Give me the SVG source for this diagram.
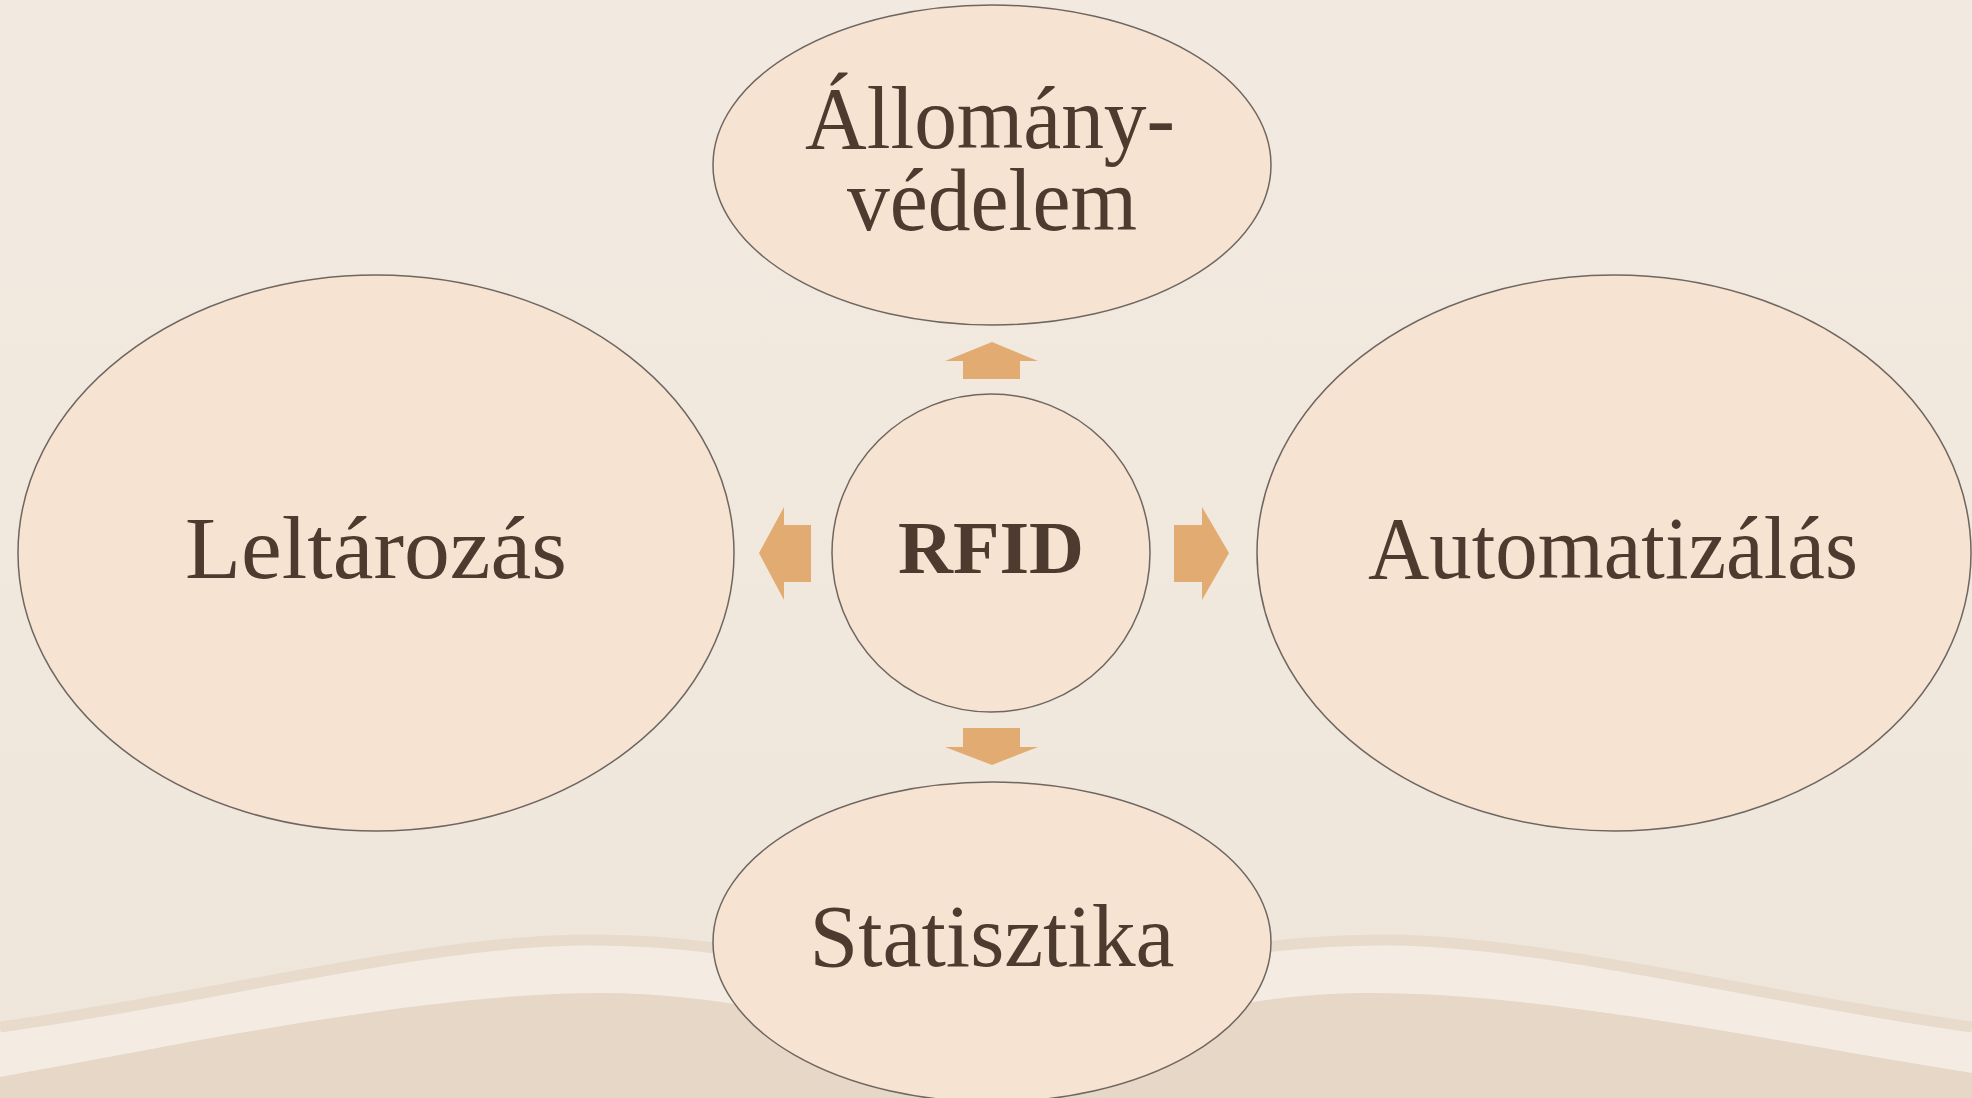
<svg xmlns="http://www.w3.org/2000/svg" width="1972" height="1098" viewBox="0 0 1972 1098">
<style>
.node{fill:#F7E3D1;stroke:#6E6660;stroke-width:1.5}
.lbl{font-family:"Liberation Serif","Times New Roman",serif;font-size:88px;fill:#4E3B30;text-anchor:middle}
.bold{font-weight:bold;font-size:74px}
.arrow{fill:#E2AB72}
</style>
<defs>
<linearGradient id="bg" x1="0" y1="0" x2="0" y2="1">
<stop offset="0" stop-color="#F2EAE0"/>
<stop offset="1" stop-color="#EFE6DB"/>
</linearGradient>
</defs>
<g id="background">
<rect width="1972" height="1098" fill="url(#bg)"/>
<path d="M0,1027 C200,1000 420,942 580,940 C760,938 860,985 991,990 C1122,985 1212,938 1392,940 C1552,942 1772,1000 1972,1027 L1972,1098 L0,1098 Z" fill="#F4ECE3"/>
<path d="M0,1027 C200,1000 420,942 580,940 C760,938 860,985 991,990 C1122,985 1212,938 1392,940 C1552,942 1772,1000 1972,1027" fill="none" stroke="#E8DBCB" stroke-width="11"/>
<path d="M0,1077 C180,1045 420,993 600,993 C760,993 860,1040 991,1045 C1122,1040 1212,993 1372,993 C1552,993 1792,1045 1972,1073 L1972,1098 L0,1098 Z" fill="#E6D7C6"/>
</g>
<g id="connectors">
<polygon class="arrow" points="992,342 1038,361 1020,361 1020,379 963,379 963,361 945,361"/>
<polygon class="arrow" points="992,765 1038,747 1020,747 1020,728 963,728 963,747 945,747"/>
<polygon class="arrow" points="759,553 784,507 784,525 811,525 811,582 784,582 784,600"/>
<polygon class="arrow" points="1229,553 1202,507 1202,525 1174,525 1174,582 1202,582 1202,600"/>
</g>
<g id="node-top">
<ellipse class="node" cx="992" cy="165" rx="279" ry="160"/>
<text class="lbl" x="990" y="148" textLength="370" lengthAdjust="spacingAndGlyphs">Állomány-</text>
<text class="lbl" x="992" y="230" textLength="290" lengthAdjust="spacingAndGlyphs">védelem</text>
</g>
<g id="node-left">
<ellipse class="node" cx="376" cy="553" rx="358" ry="278"/>
<text class="lbl" x="376" y="578" textLength="382" lengthAdjust="spacingAndGlyphs">Leltározás</text>
</g>
<g id="node-right">
<ellipse class="node" cx="1614" cy="553" rx="357" ry="278"/>
<text class="lbl" x="1613" y="578" textLength="490" lengthAdjust="spacingAndGlyphs">Automatizálás</text>
</g>
<g id="node-bottom">
<ellipse class="node" cx="992" cy="942" rx="279" ry="160"/>
<text class="lbl" x="992" y="966" textLength="365" lengthAdjust="spacingAndGlyphs">Statisztika</text>
</g>
<g id="node-center">
<circle class="node" cx="991" cy="553" r="159"/>
<text class="lbl bold" x="991" y="573" textLength="186" lengthAdjust="spacingAndGlyphs">RFID</text>
</g>
</svg>
